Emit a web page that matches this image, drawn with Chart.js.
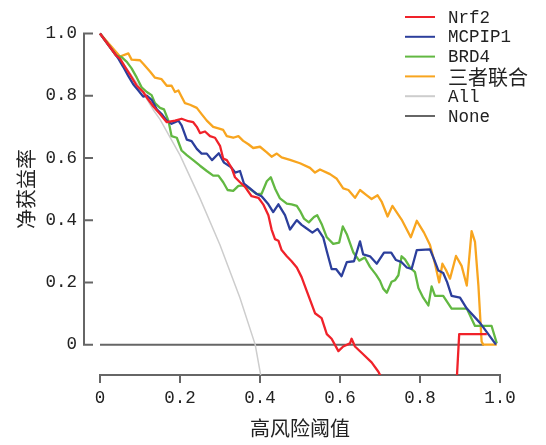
<!DOCTYPE html>
<html>
<head>
<meta charset="utf-8">
<script src="https://cdn.jsdelivr.net/npm/chart.js@4.4.0/dist/chart.umd.min.js"></script>
<style>
  html, body { margin: 0; padding: 0; background: #ffffff; }
  #wrap { width: 546px; height: 445px; }
</style>
</head>
<body>
<div id="wrap"><canvas id="c" width="546" height="445"></canvas></div>
<script>
// ---- data ----
const seriesNames = ["Nrf2", "MCPIP1", "BRD4", "三者联合", "All", "None"];
const xTicks = [0, 0.2, 0.4, 0.6, 0.8, 1.0];
const yTicks = [0, 0.2, 0.4, 0.6, 0.8, 1.0];
const xTitle = "高风险阈值";
const yTitle = "净获益率";

const nrf2X = [0, 0.04, 0.05, 0.0625, 0.075, 0.092, 0.108, 0.121, 0.133, 0.15, 0.167, 0.1875, 0.204, 0.221, 0.233, 0.242, 0.25, 0.2625, 0.275, 0.2875, 0.30, 0.308, 0.317, 0.329, 0.3375, 0.35, 0.3625, 0.379, 0.396, 0.408, 0.421, 0.429, 0.4375, 0.446, 0.454, 0.467, 0.479, 0.492, 0.504, 0.517, 0.5375, 0.554, 0.567, 0.579, 0.596, 0.608, 0.625, 0.629, 0.6375, 0.654, 0.679, 0.696, 0.705, 0.80, 0.892, 0.898, 0.967];
const nrf2Y = [1.0, 0.93, 0.919, 0.893, 0.868, 0.832, 0.812, 0.787, 0.766, 0.741, 0.715, 0.720, 0.726, 0.718, 0.715, 0.700, 0.680, 0.685, 0.670, 0.665, 0.639, 0.598, 0.593, 0.568, 0.538, 0.522, 0.507, 0.477, 0.472, 0.451, 0.416, 0.370, 0.339, 0.334, 0.304, 0.284, 0.268, 0.248, 0.217, 0.172, 0.101, 0.085, 0.034, 0.019, -0.021, -0.006, 0.004, 0.019, -0.006, -0.026, -0.057, -0.087, -0.11, null, -0.11, 0.034, 0.034];

const mcpX = [0, 0.04, 0.046, 0.058, 0.071, 0.083, 0.096, 0.108, 0.117, 0.129, 0.142, 0.154, 0.167, 0.179, 0.196, 0.204, 0.217, 0.229, 0.242, 0.254, 0.267, 0.28, 0.297, 0.31, 0.327, 0.338, 0.35, 0.36, 0.375, 0.392, 0.404, 0.421, 0.433, 0.446, 0.4625, 0.475, 0.492, 0.504, 0.515, 0.531, 0.544, 0.558, 0.567, 0.579, 0.59, 0.604, 0.617, 0.635, 0.65, 0.658, 0.675, 0.692, 0.71, 0.728, 0.74, 0.754, 0.767, 0.779, 0.792, 0.825, 0.835, 0.846, 0.858, 0.868, 0.879, 0.90, 0.917, 0.95, 0.99];
const mcpY = [1.0, 0.93, 0.919, 0.893, 0.863, 0.837, 0.817, 0.797, 0.80, 0.787, 0.756, 0.741, 0.72, 0.71, 0.72, 0.705, 0.659, 0.654, 0.629, 0.614, 0.614, 0.593, 0.615, 0.585, 0.571, 0.553, 0.558, 0.517, 0.502, 0.484, 0.477, 0.451, 0.426, 0.451, 0.416, 0.370, 0.400, 0.385, 0.375, 0.360, 0.372, 0.345, 0.30, 0.243, 0.243, 0.22, 0.265, 0.268, 0.332, 0.29, 0.284, 0.26, 0.296, 0.296, 0.272, 0.265, 0.248, 0.243, 0.304, 0.306, 0.275, 0.238, 0.23, 0.20, 0.157, 0.151, 0.116, 0.07, 0.0];

const brdX = [0, 0.04, 0.054, 0.067, 0.079, 0.092, 0.104, 0.117, 0.129, 0.1375, 0.15, 0.16, 0.171, 0.179, 0.192, 0.204, 0.217, 0.233, 0.25, 0.267, 0.283, 0.296, 0.308, 0.319, 0.333, 0.346, 0.36, 0.375, 0.392, 0.404, 0.417, 0.427, 0.4375, 0.45, 0.467, 0.479, 0.492, 0.50, 0.51, 0.522, 0.535, 0.543, 0.555, 0.567, 0.583, 0.598, 0.607, 0.617, 0.633, 0.648, 0.662, 0.675, 0.69, 0.70, 0.708, 0.717, 0.729, 0.7375, 0.746, 0.754, 0.7625, 0.775, 0.7875, 0.796, 0.808, 0.821, 0.829, 0.8375, 0.858, 0.879, 0.917, 0.9375, 0.979, 0.992];
const brdY = [1.0, 0.93, 0.924, 0.909, 0.888, 0.858, 0.827, 0.812, 0.802, 0.776, 0.761, 0.756, 0.720, 0.670, 0.665, 0.624, 0.609, 0.593, 0.575, 0.558, 0.543, 0.543, 0.522, 0.497, 0.494, 0.51, 0.512, 0.50, 0.484, 0.485, 0.525, 0.538, 0.502, 0.47, 0.453, 0.451, 0.446, 0.43, 0.405, 0.393, 0.41, 0.416, 0.385, 0.345, 0.324, 0.328, 0.38, 0.355, 0.297, 0.27, 0.28, 0.25, 0.225, 0.205, 0.18, 0.167, 0.202, 0.207, 0.223, 0.284, 0.274, 0.248, 0.233, 0.182, 0.151, 0.126, 0.187, 0.157, 0.157, 0.116, 0.116, 0.06, 0.06, 0.004];

const combX = [0, 0.05, 0.071, 0.079, 0.10, 0.108, 0.125, 0.1375, 0.154, 0.167, 0.179, 0.1875, 0.196, 0.204, 0.2125, 0.225, 0.242, 0.254, 0.267, 0.283, 0.296, 0.308, 0.317, 0.333, 0.346, 0.358, 0.371, 0.383, 0.40, 0.417, 0.429, 0.442, 0.454, 0.475, 0.50, 0.525, 0.5375, 0.55, 0.575, 0.592, 0.608, 0.621, 0.6375, 0.65, 0.667, 0.679, 0.694, 0.704, 0.719, 0.731, 0.754, 0.777, 0.792, 0.81, 0.825, 0.8375, 0.848, 0.856, 0.865, 0.875, 0.89, 0.904, 0.917, 0.929, 0.9375, 0.946, 0.954, 0.958, 0.992];
const combY = [1.0, 0.926, 0.936, 0.916, 0.914, 0.903, 0.878, 0.858, 0.853, 0.832, 0.832, 0.812, 0.817, 0.797, 0.776, 0.771, 0.761, 0.741, 0.720, 0.700, 0.695, 0.690, 0.670, 0.665, 0.670, 0.655, 0.644, 0.632, 0.636, 0.618, 0.604, 0.614, 0.602, 0.594, 0.583, 0.568, 0.553, 0.563, 0.548, 0.533, 0.502, 0.497, 0.472, 0.497, 0.48, 0.468, 0.48, 0.46, 0.412, 0.446, 0.402, 0.345, 0.398, 0.36, 0.32, 0.26, 0.20, 0.26, 0.24, 0.212, 0.285, 0.253, 0.19, 0.365, 0.33, 0.19, 0.01, 0.0, 0.0];

const allX = [0, 0.05, 0.1, 0.133, 0.15, 0.2, 0.25, 0.3, 0.35, 0.388, 0.402, 0.41];
const allY = [1.0, 0.918, 0.826, 0.755, 0.724, 0.609, 0.47, 0.32, 0.15, 0.0, -0.1, -0.15];

const noneX = [0, 0.96];
const noneY = [0, 0];

const colors = ["#f0222a", "#2c3f9c", "#62b842", "#f8a51f", "#cdcdcd", "#666666"];
const widths = [2.3, 2.3, 2.3, 2.3, 1.5, 2];

// ---- build datasets ----
function pts(xs, ys) { return xs.map((x, i) => ({ x: x, y: ys[i] })); }
const seriesData = [pts(nrf2X, nrf2Y), pts(mcpX, mcpY), pts(brdX, brdY), pts(combX, combY), pts(allX, allY), pts(noneX, noneY)];

const datasets = seriesNames.map((name, i) => ({
  label: name,
  data: seriesData[i],
  borderColor: colors[i],
  backgroundColor: colors[i],
  borderWidth: widths[i],
  pointRadius: 0,
  tension: 0,
  spanGaps: false,
  borderJoinStyle: 'round',
  clip: { left: 4, top: 4, right: 4, bottom: 0 }
}));

const textColor = "#222";
const axisColor = "#666";
const monoFont = '"Liberation Mono", "DejaVu Sans Mono", monospace';
const cjkFont = '"Noto Sans CJK SC", sans-serif';

const axisPlugin = {
  id: 'customAxes',
  afterDraw(chart) {
    const { ctx, scales: { y }, chartArea } = chart;
    ctx.save();
    // y axis line (only 0..1) with inward ticks
    const ax = chartArea.left - 16;
    const yTop = y.getPixelForValue(yTicks[yTicks.length - 1]);
    const yBot = y.getPixelForValue(yTicks[0]);
    ctx.strokeStyle = axisColor;
    ctx.lineWidth = 2;
    ctx.beginPath();
    ctx.moveTo(ax, yTop - 1);
    ctx.lineTo(ax, yBot + 1);
    yTicks.forEach(v => {
      const py = y.getPixelForValue(v);
      ctx.moveTo(ax - 1, py);
      ctx.lineTo(ax + 9, py);
    });
    ctx.stroke();
    // y title
    ctx.translate(26, (yTop + yBot) / 2);
    ctx.rotate(-Math.PI / 2);
    ctx.font = '20px ' + cjkFont;
    ctx.fillStyle = textColor;
    ctx.textAlign = 'center';
    ctx.textBaseline = 'middle';
    ctx.fillText(yTitle, 0, 0);
    ctx.restore();

    // legend
    ctx.save();
    chart.data.datasets.forEach((ds, i) => {
      const ly = 17 + i * 19.8;
      ctx.strokeStyle = ds.borderColor;
      ctx.lineWidth = 2;
      ctx.beginPath();
      ctx.moveTo(405, ly);
      ctx.lineTo(435, ly);
      ctx.stroke();
      const isCjk = /[\u4e00-\u9fff]/.test(ds.label);
      ctx.font = isCjk ? ('20px ' + cjkFont) : ('17.5px ' + monoFont);
      ctx.fillStyle = textColor;
      ctx.textAlign = 'left';
      ctx.textBaseline = 'middle';
      ctx.fillText(ds.label, 448, ly + 1);
    });
    ctx.restore();
  }
};

const fmt = v => (v === 0 ? '0' : Number(v).toFixed(1));

new Chart(document.getElementById('c'), {
  type: 'line',
  data: { datasets: datasets },
  options: {
    responsive: false,
    animation: false,
    devicePixelRatio: 1,
    layout: { padding: { left: 0, right: 46, top: 15, bottom: 0 } },
    plugins: {
      legend: { display: false },
      tooltip: { enabled: false }
    },
    scales: {
      x: {
        type: 'linear',
        min: 0,
        max: 1,
        afterBuildTicks: s => { s.ticks = xTicks.map(v => ({ value: v })); },
        afterFit: s => { s.height = 70; },
        ticks: {
          callback: v => fmt(v),
          font: { family: monoFont, size: 17.5 },
          color: textColor,
          padding: 5,
          maxRotation: 0,
          autoSkip: false
        },
        grid: {
          drawOnChartArea: false,
          drawTicks: true,
          tickLength: 8,
          color: axisColor,
          lineWidth: 2
        },
        border: { display: true, color: axisColor, width: 2 },
        title: {
          display: true,
          text: xTitle,
          font: { family: cjkFont, size: 20 },
          color: textColor,
          padding: { top: 0, bottom: 5 }
        }
      },
      y: {
        type: 'linear',
        min: -0.0976,
        max: 1.0,
        afterBuildTicks: s => { s.ticks = yTicks.map(v => ({ value: v })); },
        afterFit: s => { s.width = 100; },
        ticks: {
          callback: v => fmt(v),
          font: { family: monoFont, size: 17.5 },
          color: textColor,
          padding: 23,
          autoSkip: false
        },
        grid: { display: false, drawTicks: false },
        border: { display: false }
      }
    }
  },
  plugins: [axisPlugin]
});
</script>
</body>
</html>
